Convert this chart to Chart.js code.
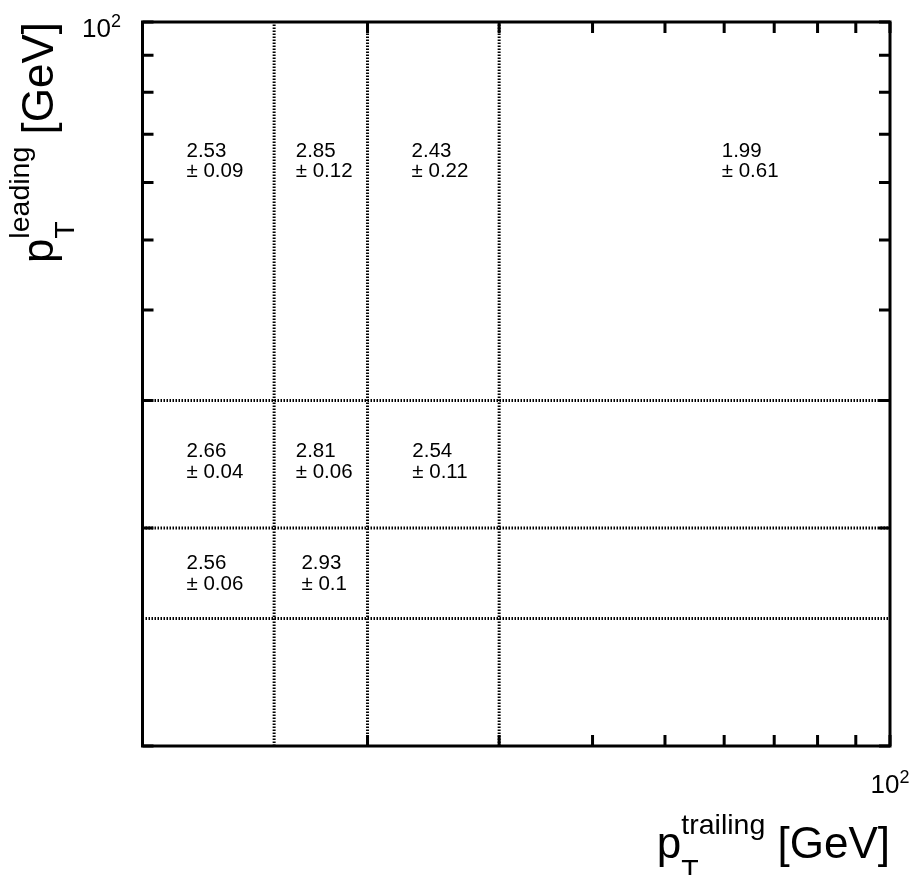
<!DOCTYPE html>
<html>
<head>
<meta charset="utf-8">
<script src="https://cdn.jsdelivr.net/npm/chart.js@4/dist/chart.umd.min.js"></script>
<style>
  html, body { margin: 0; padding: 0; background: #ffffff; }
  canvas { display: block; }
</style>
</head>
<body>
<canvas id="chart" width="915" height="875"></canvas>
<script>
// Bin edges (GeV)
const xBinEdges = [10, 15, 20, 30, 100];   // trailing-lepton pT
const yBinEdges = [10, 15, 20, 30, 100];   // leading-lepton pT

// Cell contents, one array per leading-pT bin, one entry per trailing-pT bin (null = empty cell)
const valuesRow10to15  = [null, null, null, null];
const valuesRow15to20  = [2.56, 2.93, null, null];
const valuesRow20to30  = [2.66, 2.81, 2.54, null];
const valuesRow30to100 = [2.53, 2.85, 2.43, 1.99];

const errorsRow10to15  = [null, null, null, null];
const errorsRow15to20  = [0.06, 0.1, null, null];
const errorsRow20to30  = [0.04, 0.06, 0.11, null];
const errorsRow30to100 = [0.09, 0.12, 0.22, 0.61];

// Axis ticks and the ticks that carry a label
const xTickValues = [10, 20, 30, 40, 50, 60, 70, 80, 90, 100];
const yTickValues = [10, 20, 30, 40, 50, 60, 70, 80, 90, 100];
const xLabelledTicks = [100];
const yLabelledTicks = [100];

// Axis titles
const xTitleParts = ['p', 'T', 'trailing', ' [GeV]'];   // main, subscript, superscript, tail
const yTitleParts = ['p', 'T', 'leading', ' [GeV]'];

const FAMILY = '"Liberation Sans", Arial, Helvetica, sans-serif';

const valueRows = [valuesRow10to15, valuesRow15to20, valuesRow20to30, valuesRow30to100];
const errorRows = [errorsRow10to15, errorsRow15to20, errorsRow20to30, errorsRow30to100];

// Cell centres (linear bin centre, as the histogram text option places them)
const cellPoints = [];
valueRows.forEach((row, iy) => {
  row.forEach((v, ix) => {
    if (v === null) return;
    cellPoints.push({
      x: (xBinEdges[ix] + xBinEdges[ix + 1]) / 2,
      y: (yBinEdges[iy] + yBinEdges[iy + 1]) / 2,
      v: v,
      e: errorRows[iy][ix]
    });
  });
});

// Dotted bin boundaries
const xMin = xBinEdges[0], xMax = xBinEdges[xBinEdges.length - 1];
const yMin = yBinEdges[0], yMax = yBinEdges[yBinEdges.length - 1];
const boundaryStyle = {
  showLine: true, borderColor: '#000000', borderWidth: 3, borderDash: [1.5, 1.5],
  borderCapStyle: 'butt', pointRadius: 0, fill: false
};
const boundaryDatasets = [];
xBinEdges.slice(1, -1).forEach(e => boundaryDatasets.push(Object.assign(
  { data: [{ x: e, y: yMin }, { x: e, y: yMax }] }, boundaryStyle)));
yBinEdges.slice(1, -1).forEach(e => boundaryDatasets.push(Object.assign(
  { data: [{ x: xMin, y: e }, { x: xMax, y: e }] }, boundaryStyle)));

const cellDatasetIndex = boundaryDatasets.length;

function drawPowerOfTen(ctx, value, x, y, align) {
  const exp = String(Math.round(Math.log10(value)));
  ctx.font = '26px ' + FAMILY;
  const wb = ctx.measureText('10').width;
  ctx.font = '18px ' + FAMILY;
  const we = ctx.measureText(exp).width;
  const total = wb + we;
  let x0 = align === 'center' ? x - total / 2 : x - total;
  ctx.textAlign = 'left';
  ctx.textBaseline = 'alphabetic';
  ctx.font = '26px ' + FAMILY;
  ctx.fillText('10', x0, y);
  ctx.font = '18px ' + FAMILY;
  ctx.fillText(exp, x0 + wb, y - 10);
}

function drawTitle(ctx, parts, endX, baseY) {
  const [main, sub, sup, tail] = parts;
  const big = '44px ' + FAMILY, small = '28.5px ' + FAMILY;
  ctx.font = big;
  const wMain = ctx.measureText(main).width;
  const wTail = ctx.measureText(tail).width;
  ctx.font = small;
  const wScript = Math.max(ctx.measureText(sup).width, ctx.measureText(sub).width);
  const x0 = endX - (wMain + wScript + wTail);
  ctx.textAlign = 'left';
  ctx.textBaseline = 'alphabetic';
  ctx.font = big;
  ctx.fillText(main, x0, baseY);
  ctx.fillText(tail, x0 + wMain + wScript, baseY);
  ctx.font = small;
  ctx.fillText(sup, x0 + wMain, baseY - 24.5);
  ctx.fillText(sub, x0 + wMain, baseY + 21);
}

const framePlugin = {
  id: 'frameAndText',
  afterDatasetsDraw(chart) {
    const ctx = chart.ctx;
    const xs = chart.scales.x, ys = chart.scales.y;
    const a = chart.chartArea;
    const TICK = 11;
    ctx.save();
    ctx.strokeStyle = '#000000';
    ctx.fillStyle = '#000000';
    ctx.lineCap = 'butt';
    ctx.lineWidth = 3;

    // ticks on all four sides, pointing inwards
    ctx.beginPath();
    xTickValues.forEach(v => {
      const px = xs.getPixelForValue(v);
      ctx.moveTo(px, a.bottom); ctx.lineTo(px, a.bottom - TICK);
      ctx.moveTo(px, a.top); ctx.lineTo(px, a.top + TICK);
    });
    yTickValues.forEach(v => {
      const py = ys.getPixelForValue(v);
      ctx.moveTo(a.left, py); ctx.lineTo(a.left + TICK, py);
      ctx.moveTo(a.right, py); ctx.lineTo(a.right - TICK, py);
    });
    ctx.stroke();

    // frame
    ctx.strokeRect(a.left, a.top, a.right - a.left, a.bottom - a.top);

    // tick labels
    xLabelledTicks.forEach(v => drawPowerOfTen(ctx, v, xs.getPixelForValue(v), 793, 'center'));
    yLabelledTicks.forEach(v => drawPowerOfTen(ctx, v, 121, ys.getPixelForValue(v) + 14.5, 'right'));

    // axis titles
    drawTitle(ctx, xTitleParts, a.right, 858);
    ctx.save();
    ctx.translate(53, a.top);
    ctx.rotate(-Math.PI / 2);
    drawTitle(ctx, yTitleParts, 0, 0);
    ctx.restore();

    // cell texts: value and uncertainty, lines left-aligned inside a centred block
    const meta = chart.getDatasetMeta(cellDatasetIndex);
    const data = chart.data.datasets[cellDatasetIndex].data;
    ctx.font = '20.5px ' + FAMILY;
    ctx.textAlign = 'left';
    ctx.textBaseline = 'alphabetic';
    meta.data.forEach((el, i) => {
      const d = data[i];
      const l1 = String(d.v);
      const l2 = '\u00B1 ' + String(d.e);
      const w = Math.max(ctx.measureText(l1).width, ctx.measureText(l2).width);
      const left = el.x - w / 2;
      ctx.fillText(l1, left, el.y - 0.7);
      ctx.fillText(l2, left, el.y + 20);
    });
    ctx.restore();
  }
};

new Chart(document.getElementById('chart'), {
  type: 'scatter',
  data: {
    datasets: boundaryDatasets.concat([{
      data: cellPoints,
      pointRadius: 0,
      pointHoverRadius: 0,
      showLine: false
    }])
  },
  options: {
    responsive: false,
    animation: false,
    events: [],
    layout: { padding: { left: 142.5, right: 25, top: 22, bottom: 129 } },
    scales: {
      x: { type: 'logarithmic', min: xMin, max: xMax, display: false },
      y: { type: 'logarithmic', min: yMin, max: yMax, display: false }
    },
    plugins: {
      legend: { display: false },
      tooltip: { enabled: false },
      title: { display: false }
    }
  },
  plugins: [framePlugin]
});
</script>
</body>
</html>
